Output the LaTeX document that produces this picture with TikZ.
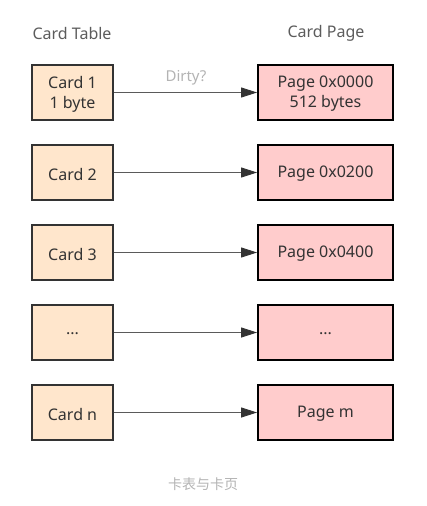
\documentclass[tikz,border=0pt]{standalone}
\usepackage{fontspec}
\setmainfont{Noto Sans}
\newfontfamily\cjk{Noto Sans CJK SC}
\usetikzlibrary{arrows.meta}
\definecolor{cardfill}{HTML}{FFE6CC}
\definecolor{pagefill}{HTML}{FFCCCC}
\definecolor{txt}{HTML}{333333}
\definecolor{light}{HTML}{B3B3B3}
\definecolor{wire}{HTML}{5A5A5A}
\begin{document}
\begin{tikzpicture}[x=1pt,y=-1pt,
  cardbox/.style={draw=txt,line width=1.4pt,fill=cardfill,minimum width=81pt,minimum height=55pt,inner sep=0pt},
  pagebox/.style={draw=black,line width=1.8pt,fill=pagefill,minimum width=135pt,minimum height=55pt,inner sep=0pt},
  boxtext/.style={text=txt,align=center,font=\fontsize{16}{20}\selectfont},
  link/.style={draw=wire,line width=0.9pt,-{Triangle[length=16pt,width=10pt,color=txt]}},
  head/.style={font=\fontsize{16}{18}\selectfont,text=txt!80}]
\useasboundingbox (0,0) rectangle (426,506);
\node[head] (th) at (72,33) {Card Table};
\node[head] (ph) at (326,33) {Card Page};
\foreach \i/\ct/\pt in {1/{Card 1\\1 byte}/{Page 0x0000\\512 bytes},2/{Card 2}/{Page 0x0200},3/{Card 3}/{Page 0x0400},4/{...}/{...},5/{Card n}/{Page m}}{
  \node[cardbox] (c\i) at (72.5,{92.5+80*(\i-1)}) {};
  \node[boxtext] (ct\i) at (72.5,{94+80*(\i-1)}) {\ct};
  \node[pagebox] (p\i) at (325.5,{92.5+80*(\i-1)}) {};
  \node[boxtext] (pt\i) at (325.5,{94+80*(\i-1)}) {\pt};
  \draw[link] (c\i.east) -- (p\i.west);
}
\node[font=\fontsize{15}{16}\selectfont,text=light] (dirty) at (186,78) {Dirty?};
\node[font=\cjk\fontsize{14}{16}\selectfont,text=light] (cap) at (203,484) {卡表与卡页};
\end{tikzpicture}
\end{document}
